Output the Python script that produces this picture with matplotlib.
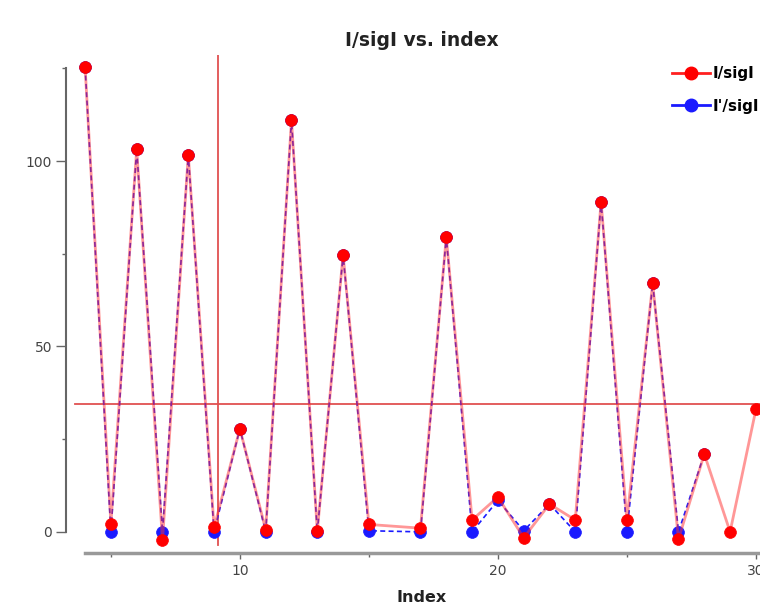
import numpy as np
import matplotlib
matplotlib.use("Agg")
import matplotlib.pyplot as plt
from matplotlib.ticker import MultipleLocator

# data
index = [4, 5, 6, 7, 8, 9, 10, 11, 12, 13, 14, 15, 17, 18, 19, 20, 21, 22, 23,
         24, 25, 26, 27, 28, 29, 30]
i_sigi = [125.3, 2.2, 103.2, -2.2, 101.6, 1.2, 27.8, 0.6, 111.0, 0.2, 74.7, 2.0,
          1.0, 79.5, 3.2, 9.4, -1.6, 7.5, 3.2, 89.0, 3.2, 67.0, -2.0, 21.0, 0.0, 33.0]
index_p = [4, 5, 6, 7, 8, 9, 10, 11, 12, 13, 14, 15, 17, 18, 19, 20, 21, 22, 23,
           24, 25, 26, 27, 28]
ip_sigi = [125.3, 0.0, 103.2, 0.0, 101.6, 0.0, 27.8, 0.0, 111.0, 0.0, 74.7, 0.3,
           0.0, 79.5, 0.0, 8.5, 0.3, 7.5, 0.0, 89.0, 0.0, 67.0, 0.0, 21.0]
cut_x = 9.15
cut_y = 34.5


def main():
    fig = plt.figure(figsize=(7.6, 6.11), dpi=100)
    ax = fig.add_axes([66 / 760, 58 / 611, 715.7 / 760, 498 / 611])
    ax.set_xlim(3.26, 31)
    ax.set_ylim(-5.7, 128.6)

    ax.plot(index_p, ip_sigi, color="#1a1aff", lw=1.2, ls=(0, (3, 2)),
            marker="o", ms=8.5, mew=0.5, mec="#1a1aff", mfc="#1a1aff",
            zorder=2)
    ax.plot(index, i_sigi, color="#ff3030", lw=2.0, alpha=0.5, zorder=3)
    ax.plot(index, i_sigi, color="#ff0000", lw=0, marker="o", ms=8.5,
            mew=0.5, zorder=4)
    # legend proxies
    h1, = ax.plot([], [], color="#ff2020", lw=2, marker="o", ms=9,
                  mfc="#ff0000", mec="#ff0000", label="I/sigI")
    h2, = ax.plot([], [], color="#1a1aff", lw=2, marker="o", ms=9,
                  label="I'/sigI")

    ax.plot([cut_x, cut_x], [-3.5, 128.6], color="#e05050", lw=1.3, zorder=1)
    ax.plot([3.6, 31], [cut_y, cut_y], color="#e05050", lw=1.3, zorder=1)

    for s in ["top", "right"]:
        ax.spines[s].set_visible(False)
    ax.spines["left"].set_bounds(0, 125)
    ax.spines["left"].set_color("#666666")
    ax.spines["left"].set_linewidth(1.5)
    ax.spines["bottom"].set_bounds(4, 31)
    ax.spines["bottom"].set_color("#999999")
    ax.spines["bottom"].set_linewidth(2.5)

    ax.yaxis.set_major_locator(MultipleLocator(50))
    ax.yaxis.set_minor_locator(MultipleLocator(25))
    ax.xaxis.set_major_locator(MultipleLocator(10))
    ax.xaxis.set_minor_locator(MultipleLocator(5))
    ax.tick_params(axis="y", which="major", length=7, width=1, color="#666666",
                   labelsize=10, labelcolor="#444444", pad=3)
    ax.tick_params(axis="y", which="minor", length=3, width=1, color="#666666")
    ax.tick_params(axis="x", which="major", length=4, width=1, color="#666666",
                   labelsize=10, labelcolor="#444444", pad=4)
    ax.tick_params(axis="x", which="minor", length=3, width=1, color="#666666")
    ax.set_xticks([10, 20, 30])
    ax.set_yticks([0, 50, 100])

    fig.text(422 / 760, 1 - 40 / 611, "I/sigI vs. index", ha="center",
             va="center", fontsize=13.5, fontweight="bold", color="#222222")
    fig.text(422 / 760, 1 - 598 / 611, "Index", ha="center", va="center",
             fontsize=11.5, fontweight="bold", color="#222222")

    fig.legend(handles=[h1, h2], loc="upper left",
               bbox_to_anchor=(672 / 760, 1 - 66 / 611), frameon=False,
               handlelength=2.5, handletextpad=0.15, labelspacing=1.15,
               borderpad=0, borderaxespad=0,
               prop={"size": 11, "weight": "bold"})

    fig.savefig("out.png", dpi=100)


if __name__ == "__main__":
    main()
